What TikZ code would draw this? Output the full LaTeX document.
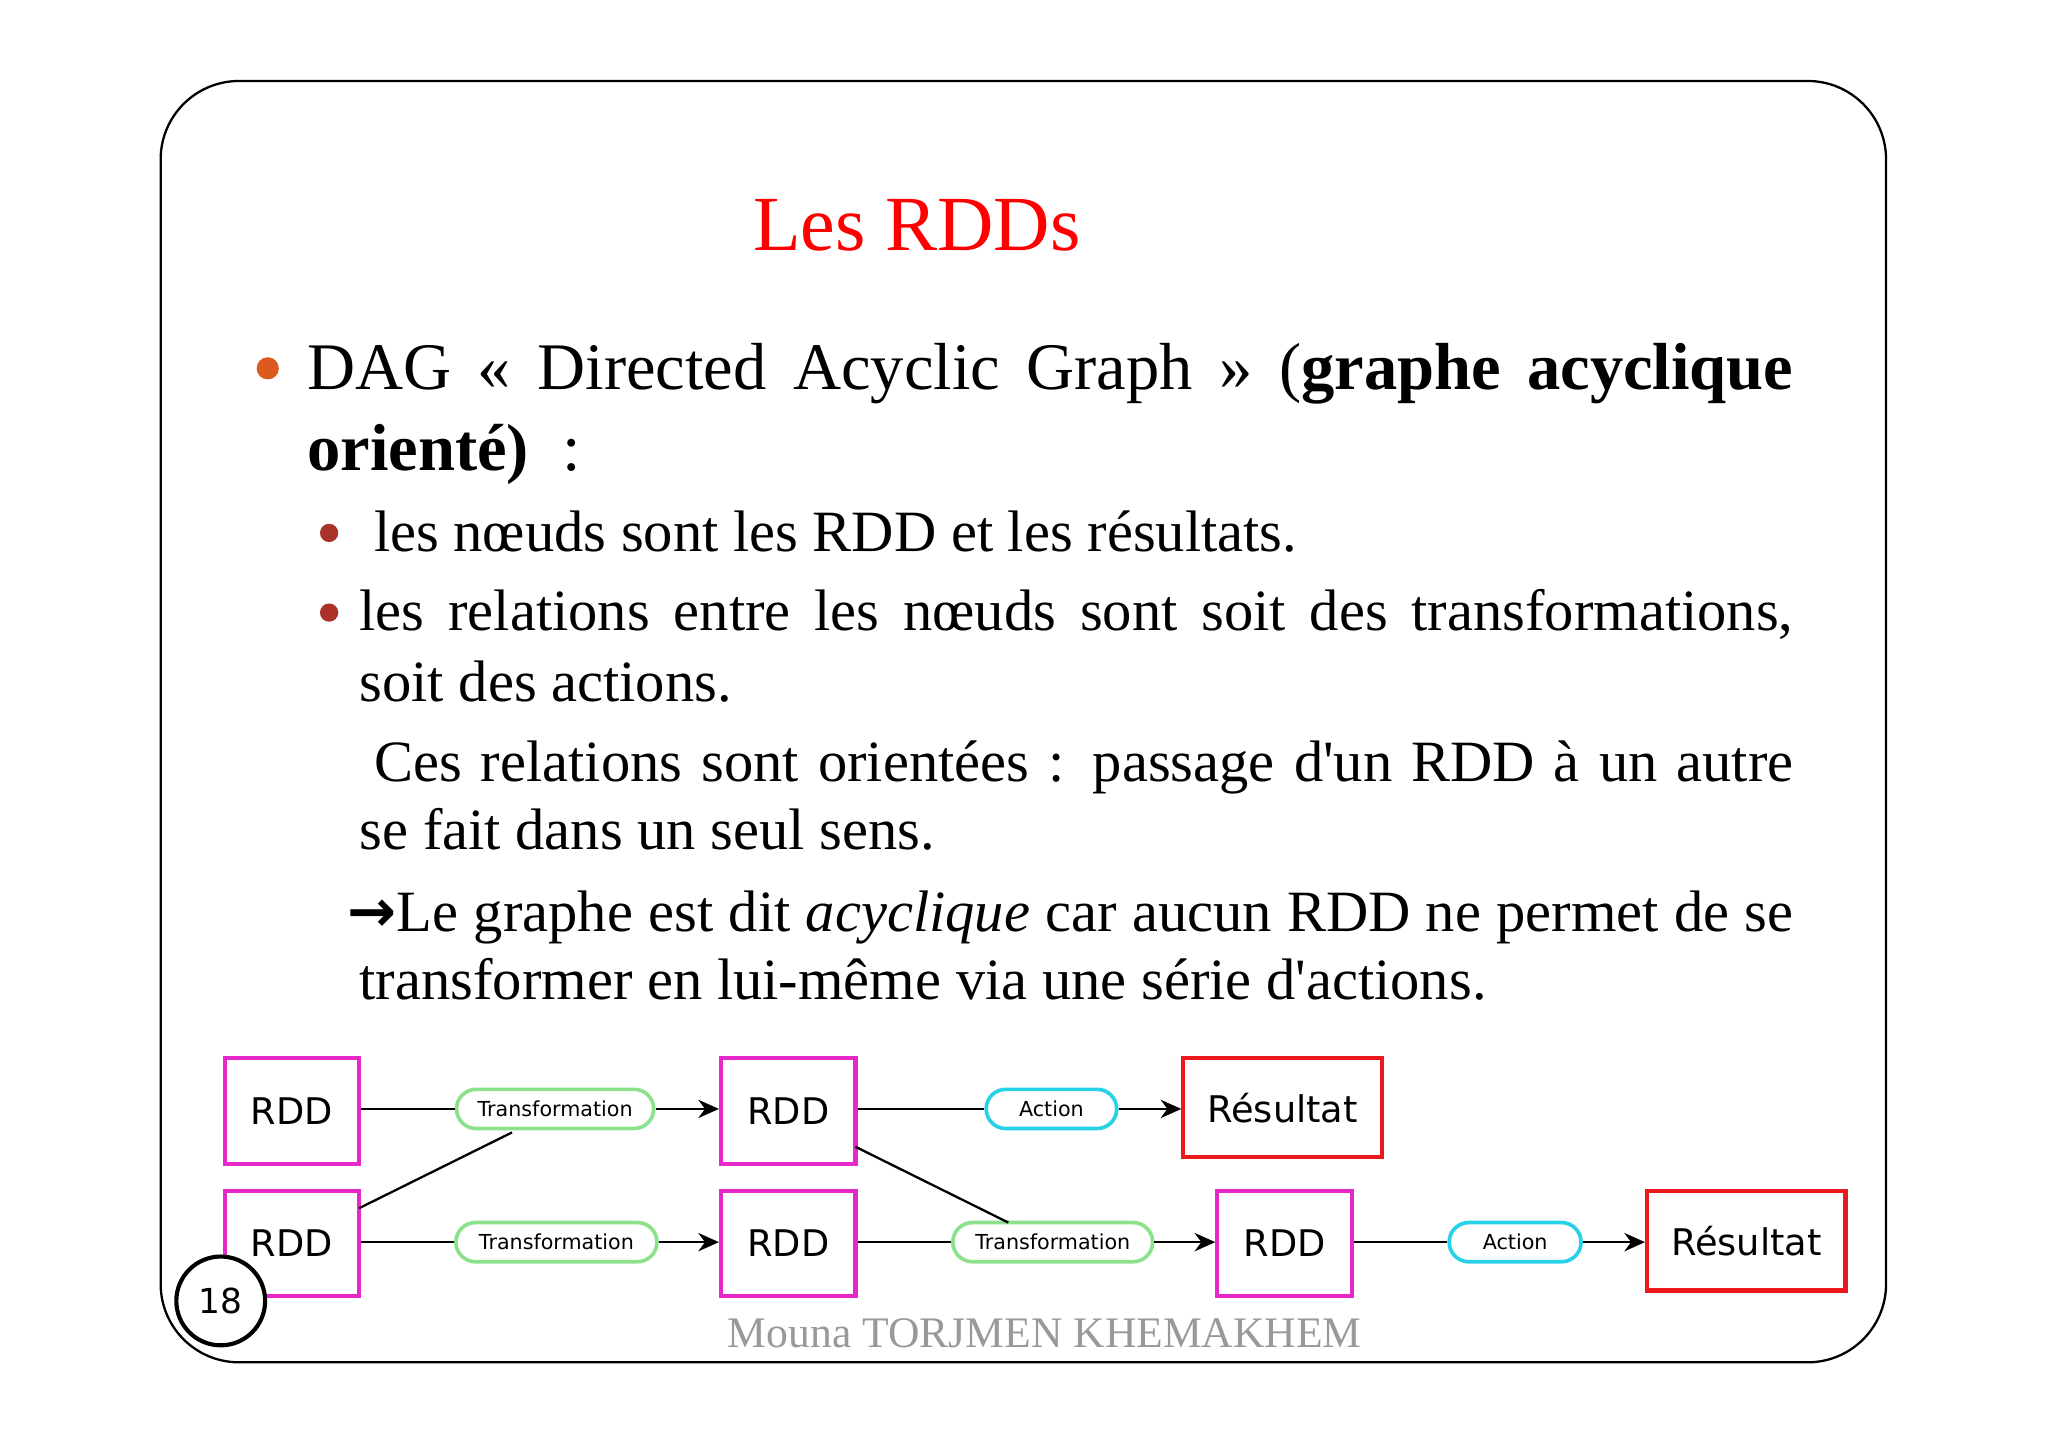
\documentclass[tikz,border=0pt]{standalone}
\usepackage{fontspec}
\setmainfont{Liberation Serif}
\newfontfamily\plainserif[Ligatures=ResetAll]{Liberation Serif}
\newfontfamily\diag{DejaVu Sans}
\usetikzlibrary{arrows.meta}
\definecolor{mag}{RGB}{230,40,200}
\definecolor{rred}{RGB}{235,25,30}
\definecolor{pgreen}{RGB}{140,225,140}
\definecolor{pcyan}{RGB}{40,210,230}
\definecolor{bulor}{RGB}{220,90,30}
\definecolor{bulred}{RGB}{170,50,40}
\newcommand{\apos}{{\plainserif '}}
\tikzset{
  txt/.style={anchor=base west,inner sep=0,font=\fontsize{29}{34}\selectfont},
  stxt/.style={anchor=base west,inner sep=0,font=\fontsize{25.5}{30}\selectfont},
  rdd/.style={draw=mag,line width=1.8pt,minimum width=2.06cm,minimum height=1.62cm,font=\diag\fontsize{16}{19}\selectfont,inner sep=0},
  res/.style={draw=rred,line width=1.8pt,minimum width=3.04cm,minimum height=1.52cm,font=\diag\fontsize{16}{19}\selectfont,inner sep=0},
  pill/.style={draw=#1,line width=1.6pt,rounded corners=0.3cm,minimum height=0.6cm,font=\diag\fontsize{9}{11}\selectfont,inner sep=2pt},
  con/.style={line width=1pt},
  arr/.style={line width=1pt,-{Stealth[length=9pt,width=8pt]}}
}
\begin{document}
\begin{tikzpicture}[x=0.02cm,y=-0.02cm]
\useasboundingbox (0,0) rectangle (1568,1107);
\fill[white] (0,0) rectangle (1568,1107);
\draw[line width=1pt,rounded corners=1.2cm] (123,62) rectangle (1444,1043);
\node[anchor=base,inner sep=0,text=red,font=\fontsize{34}{40}\selectfont] (title) at (702,192) {Les RDDs};
\fill[bulor] (205,282) circle (0.17cm);
\node[txt] (l1) at (235,298) {\makebox[22.76cm][s]{DAG « Directed Acyclic Graph » (\textbf{graphe acyclique}}};
\node[txt] (l2) at (235,360) {\textbf{orienté)} \ :};
\fill[bulred] (252,408) circle (0.14cm);
\node[stxt] (l3) at (286,422) {les nœuds sont les RDD et les résultats.};
\fill[bulred] (252,469) circle (0.14cm);
\node[stxt] (l4) at (275,483) {\makebox[21.96cm][s]{les relations entre les nœuds sont soit des transformations,}};
\node[stxt] (l5) at (275,537) {soit des actions.};
\node[stxt] (l6) at (286,598) {\makebox[21.74cm][s]{Ces relations sont orientées : passage d\apos un RDD à un autre}};
\node[stxt] (l7) at (275,650) {se fait dans un seul sens.};
\node[stxt] (l8) at (266,713) {\makebox[22.14cm][s]{{\diag\bfseries →}Le graphe est dit \textit{acyclique} car aucun RDD ne permet de se}};
\node[stxt] (l9) at (275,765) {transformer en lui-même via une série d\apos actions.};
% diagram
\node[rdd] (r1) at (223.5,850.5) {RDD};
\node[rdd] (r2) at (223.5,952) {RDD};
\node[rdd] (r3) at (603.5,850.5) {RDD};
\node[rdd] (r4) at (603.5,952) {RDD};
\node[rdd] (r5) at (983.5,952) {RDD};
\node[res] (s1) at (982,848) {Résultat};
\node[res] (s2) at (1337,950) {Résultat};
\node[pill=pgreen,minimum width=3.02cm] (t1) at (425,849) {Transformation};
\node[pill=pgreen,minimum width=3.08cm] (t2) at (426,951) {Transformation};
\node[pill=pgreen,minimum width=3.06cm] (t3) at (806,951) {Transformation};
\node[pill=pcyan,minimum width=2cm] (a1) at (805,849) {Action};
\node[pill=pcyan,minimum width=2.02cm] (a2) at (1160,951) {Action};
\coordinate (c1) at (275,925);
\coordinate (c2) at (392,867);
\coordinate (c3) at (655,878);
\coordinate (c4) at (772,936);
\draw[con] (r1.east|-t1) -- (t1); \draw[arr] (t1) -- (r3.west|-t1);
\draw[con] (c1) -- (c2);
\draw[con] (r3.east|-a1) -- (a1); \draw[arr] (a1) -- (s1.west|-a1);
\draw[con] (c3) -- (c4);
\draw[con] (r2.east|-t2) -- (t2); \draw[arr] (t2) -- (r4.west|-t2);
\draw[con] (r4.east|-t3) -- (t3); \draw[arr] (t3) -- (r5.west|-t3);
\draw[con] (r5.east|-a2) -- (a2); \draw[arr] (a2) -- (s2.west|-a2);
\node[circle,draw,line width=1.8pt,fill=white,minimum size=1.36cm,inner sep=0,font=\diag\fontsize{15}{18}\selectfont] (pg) at (169,996) {18};
\node[anchor=base,inner sep=0,text=gray!80,font=\fontsize{19}{23}\selectfont] (foot) at (800,1032) {Mouna TORJMEN KHEMAKHEM};
\end{tikzpicture}
\end{document}
